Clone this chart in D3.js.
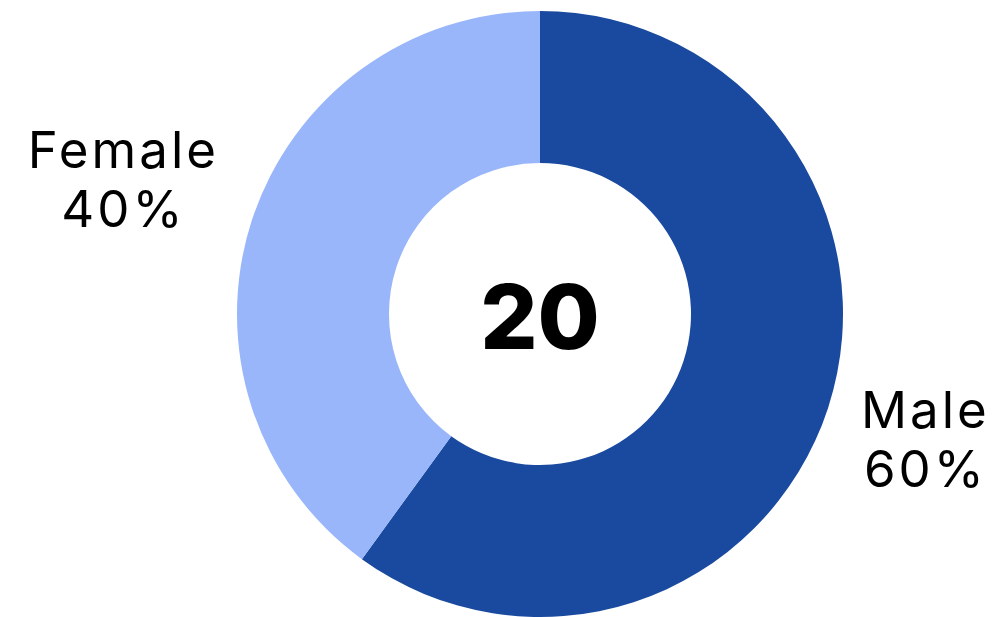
<!DOCTYPE html>
<html><head><meta charset="utf-8">
<script src="https://cdn.jsdelivr.net/npm/d3@7"></script>
<style>html,body{margin:0;padding:0;background:#fff;}svg{display:block;}</style>
</head><body>
<svg id="chart" width="992" height="617"></svg>
<script>
const categories = ["Male", "Female"];
const values = [60, 40];
const percentLabels = ["60%", "40%"];
const colors = ["#1a4a9f", "#99b6fb"];
const centerLabel = "20";

const W = 992, H = 617;
const cx = 540, cy = 314, rOuter = 303, rInner = 151;
const font = "Inter, 'Open Sans', sans-serif";

const svg = d3.select("#chart");
const g = svg.append("g").attr("transform", `translate(${cx},${cy})`);

const pie = d3.pie().sort(null).value(d => d.value);
const arcs = pie(categories.map((c, i) => ({cat: c, value: values[i], pct: percentLabels[i], color: colors[i]})));
const arc = d3.arc().innerRadius(rInner).outerRadius(rOuter);

g.selectAll("path").data(arcs).join("path")
  .attr("d", arc)
  .attr("fill", d => d.data.color);

g.append("text")
  .attr("text-anchor", "middle")
  .attr("y", 35)
  .attr("font-family", font)
  .attr("font-weight", 800)
  .attr("font-size", 90)
  .attr("fill", "#000")
  .text(centerLabel);

const edge = 321;
arcs.forEach(d => {
  const mid = (d.startAngle + d.endAngle) / 2;
  const sx = Math.sin(mid), sy = -Math.cos(mid);
  const lg = g.append("g");
  const lines = [d.data.cat, d.data.pct];
  lines.forEach((t, i) => {
    lg.append("text")
      .attr("text-anchor", "middle")
      .attr("y", i * 59)
      .attr("font-family", font)
      .attr("font-weight", 400)
      .attr("font-size", 51)
      .attr("letter-spacing", 3)
      .attr("fill", "#000")
      .text(t);
  });
  const bb = lg.node().getBBox();
  const halfW = bb.width / 2;
  const dist = (edge + halfW);
  const px = Math.sign(sx) * dist;
  const py = dist * Math.abs(sy / sx) * Math.sign(sy);
  const blockMid = (-37 + 59) / 2;
  lg.attr("transform", `translate(${px},${py - blockMid})`);
});
</script>
</body></html>
